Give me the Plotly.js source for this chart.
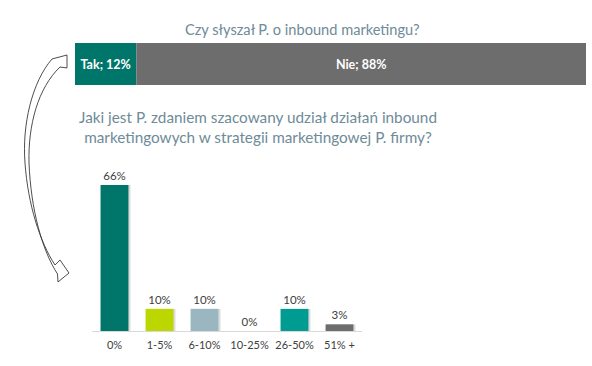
<!DOCTYPE html>
<html>
<head>
<meta charset="utf-8">
<script src="https://cdn.plot.ly/plotly-3.0.1.min.js"></script>
<style>html,body{margin:0;padding:0;background:#fff;}#chart{width:592px;height:366px;}</style>
</head>
<body>
<div id="chart"></div>
<script>
// ---- data ----
const topTitle = 'Czy słyszał P. o inbound marketingu?';
const topLabels = ['Tak', 'Nie'];
const topValues = [12, 88];

const bottomTitle = 'Jaki jest P. zdaniem szacowany udział działań inbound<br>marketingowych w strategii marketingowej P. firmy?';
const categories = ['0%', '1-5%', '6-10%', '10-25%', '26-50%', '51% +'];
const values = [66, 10, 10, 0, 10, 3];

// ---- styles ----
const topColors = ['#00766b', '#6d6d6d'];
const barColors = ['#00766b', '#bcd700', '#9ab7c1', '#d9d9d9', '#009b91', '#6d6d6d'];
const FONT = 'Lato, "Open Sans", sans-serif';
const W = 592, H = 366;

const traces = [];
let base = 0;
topLabels.forEach((lab, i) => {
  traces.push({
    type: 'bar', orientation: 'h',
    x: [topValues[i]], y: ['q'], base: [base],
    width: 1,
    marker: {color: topColors[i], line: {width: 0}},
    text: [lab + '; ' + topValues[i] + '%'],
    textposition: 'inside', insidetextanchor: 'middle',
    textfont: {color: '#ffffff', size: 12.5, family: FONT, weight: 'bold'},
    constraintext: 'none',
    xaxis: 'x', yaxis: 'y', hoverinfo: 'none', showlegend: false
  });
  base += topValues[i];
});

// soft shadow for column bars
traces.push({
  type: 'bar', x: categories, y: values,
  width: 0.62, offset: -0.31 + 0.045,
  marker: {color: 'rgba(0,0,0,0.14)', line: {width: 0}},
  xaxis: 'x2', yaxis: 'y2', hoverinfo: 'none', showlegend: false
});
traces.push({
  type: 'bar', x: categories, y: values,
  width: 0.62, offset: -0.31,
  marker: {color: barColors, line: {width: 0}},
  text: values.map(v => v + '%'),
  textposition: 'outside', cliponaxis: false,
  textfont: {color: '#404040', size: 11.5, family: FONT},
  xaxis: 'x2', yaxis: 'y2', hoverinfo: 'none', showlegend: false
});

function px(x, y) { return (x / W).toFixed(5) + ',' + (1 - y / H).toFixed(5); }
const arrowPath =
  'M ' + px(67, 55) + ' L ' + px(52, 59) +
  ' C ' + px(32, 82) + ' ' + px(22, 125) + ' ' + px(25, 163) +
  ' C ' + px(28, 205) + ' ' + px(40, 242) + ' ' + px(55, 265) +
  ' L ' + px(60, 260) + ' L ' + px(69, 273) + ' L ' + px(58, 282) + ' L ' + px(57.5, 274) +
  ' C ' + px(42, 250) + ' ' + px(31, 210) + ' ' + px(29, 163) +
  ' C ' + px(28, 125) + ' ' + px(38, 88) + ' ' + px(60, 67) +
  ' L ' + px(67, 68) + ' Z';

const layout = {
  width: W, height: H,
  margin: {l: 0, r: 0, t: 0, b: 0},
  paper_bgcolor: '#ffffff', plot_bgcolor: 'rgba(0,0,0,0)',
  barmode: 'overlay',
  font: {family: FONT, color: '#404040'},
  showlegend: false,
  xaxis: {domain: [75 / W, 586 / W], range: [0, 100], visible: false, fixedrange: true},
  yaxis: {domain: [1 - 85 / H, 1 - 43 / H], range: [-0.5, 0.5], type: 'category', visible: false, fixedrange: true},
  xaxis2: {domain: [92 / W, 362 / W], anchor: 'y2', type: 'category',
    showline: true, linecolor: '#d9d9d9', linewidth: 1, ticks: '', showgrid: false, zeroline: false,
    tickfont: {size: 11, color: '#404040', family: FONT}, ticklabelstandoff: 4},
  yaxis2: {domain: [1 - 331 / H, 1 - 185 / H], anchor: 'x2', range: [0, 66], visible: false, showgrid: false, zeroline: false},
  annotations: [
    {text: topTitle, xref: 'paper', yref: 'paper', x: 302 / W, y: 1 - 30 / H, xanchor: 'center', yanchor: 'middle',
      showarrow: false, font: {size: 14.6, color: '#6e8b98', family: FONT}},
    {text: bottomTitle, xref: 'paper', yref: 'paper', x: 258 / W, y: 1 - 127 / H, xanchor: 'center', yanchor: 'middle',
      showarrow: false, align: 'center', font: {size: 15.3, color: '#6e8b98', family: FONT}}
  ],
  shapes: [
    {type: 'path', xref: 'paper', yref: 'paper', path: arrowPath,
      fillcolor: '#ffffff', line: {color: '#3a3a3a', width: 0.9}}
  ]
};

Plotly.newPlot('chart', traces, layout, {staticPlot: true, displayModeBar: false});
</script>
</body>
</html>
